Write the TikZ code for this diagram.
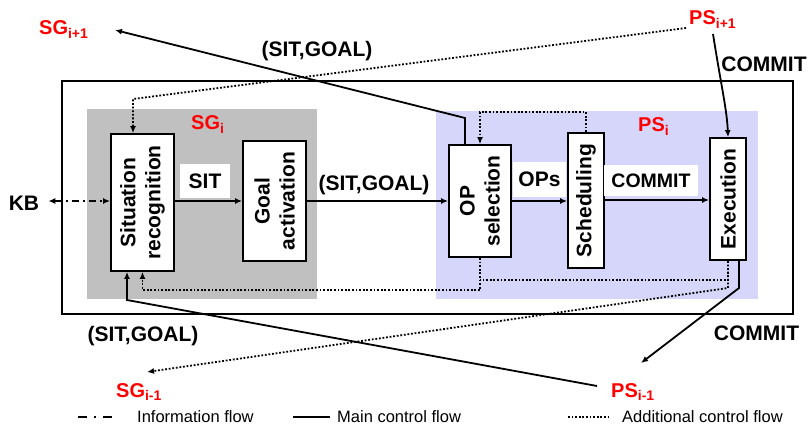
\documentclass[tikz,border=0pt]{standalone}
\usepackage{fontspec}
\setmainfont{Liberation Sans}
\usetikzlibrary{arrows.meta}
\definecolor{sgray}{RGB}{192,192,192}
\definecolor{pblue}{RGB}{214,214,250}
\definecolor{lred}{RGB}{255,0,0}
\begin{document}
\begin{tikzpicture}[x=1pt,y=-1pt,
 box/.style={draw,line width=1.8pt,fill=white,inner sep=0pt},
 btxt/.style={font=\fontsize{21}{25}\selectfont\bfseries, rotate=90, align=center, inner sep=0pt},
 lbl/.style={font=\fontsize{21}{25}\selectfont\bfseries, inner sep=0pt},
 wlbl/.style={lbl, fill=white},
 redlbl/.style={font=\fontsize{20}{24}\selectfont\bfseries, text=lred, inner sep=0pt, anchor=base west},
 main/.style={line width=1.8pt},
 addl/.style={line width=1.8pt, dash pattern=on 1.8pt off 1.8pt},
 info/.style={line width=1.8pt, dash pattern=on 7pt off 4pt on 2pt off 4pt},
 arr/.style={-{Latex[length=7pt,width=6pt]}},
 leg/.style={font=\fontsize{16.5}{20}\selectfont, inner sep=0pt, anchor=base west}
]
\useasboundingbox (0,0) rectangle (809,425);
% frames
\draw[main] (62,81) rectangle (793,314);
\fill[sgray] (87,109) rectangle (317,299);
\fill[pblue] (436,111) rectangle (758,299);
% boxes (placed first for names, redrawn on top later)
\path (142.5,202.5) node[minimum width=63, minimum height=137, inner sep=0pt, outer sep=0.9pt] (sr) {};
\path (274.5,201) node[minimum width=63, minimum height=120, inner sep=0pt, outer sep=0.9pt] (ga) {};
\path (480,201) node[minimum width=62, minimum height=112, inner sep=0pt, outer sep=0.9pt] (op) {};
\path (586,200.5) node[minimum width=36, minimum height=135, inner sep=0pt, outer sep=0.9pt] (sch) {};
\path (728,199) node[minimum width=36, minimum height=122, inner sep=0pt, outer sep=0.9pt] (ex) {};
% labels
\node[lbl] (kb) at (24,203) {KB};
\node[redlbl] (sgip) at (39,35) {SG\textsubscript{i+1}};
\node[redlbl] (sgi) at (191,130) {SG\textsubscript{i}};
\node[redlbl] (psi) at (638,132) {PS\textsubscript{i}};
\node[redlbl] (psip) at (689,25) {PS\textsubscript{i+1}};
\node[redlbl] (psim) at (611,397) {PS\textsubscript{i-1}};
\node[redlbl] (sgim) at (116,397) {SG\textsubscript{i-1}};
\node[lbl] (sgtop) at (317,51) {(SIT,GOAL)};
\node[lbl] (sgmid) at (374,185) {(SIT,GOAL)};
\node[lbl] (sgbot) at (143,336.5) {(SIT,GOAL)};
\node[lbl] (ctop) at (764,64.5) {COMMIT};
\node[lbl] (cbot) at (756.5,333.5) {COMMIT};
% coordinates
\coordinate (sgipA) at (115,30);
\coordinate (b1) at (465,118);
\coordinate (psipA) at (686,28);
\coordinate (d1) at (133,99);
\coordinate (psipB) at (713,34);
\coordinate (d2) at (480,280);
\coordinate (d3) at (480,290);
\coordinate (d4) at (728,288);
\coordinate (sgimA) at (147,372);
\coordinate (b2) at (739,288);
\coordinate (psimA) at (641,363);
\coordinate (psimB) at (597,386);
\coordinate (b3) at (127,300);
% connectors
\draw[info,{Latex[length=7pt,width=6pt]}-{Latex[length=7pt,width=6pt]}] ([shift={(9,-2)}]kb.east) -- (sr.west |- 0,201);
\draw[main,arr] (sr.east |- 0,201) -- (ga.west |- 0,201);
\draw[main,arr] (ga.east |- 0,201) -- (op.west |- 0,201);
\draw[main,arr] (op.east |- 0,201) -- (sch.west |- 0,201);
\draw[main,arr] (sch.east |- 0,200) -- (ex.west |- 0,200);
\draw[main,arr] (op.north -| b1) -- (b1) -- (sgipA);
\draw[addl,arr] (psipA) -- (d1) -- (d1 |- sr.north);
\draw[main,arr] (psipB) .. controls (721,85) and (727,110) .. (ex.north);
\draw[addl,arr] (sch.north) -- ++(0,-20) -| (op.north);
\draw[addl] (ex.south) |- (d2);
\draw[addl,arr] (op.south) -- (d3) -| (sr.south);
\draw[addl,arr] (ex.south) -- (d4) -- (sgimA);
\draw[main,arr] (ex.south -| b2) -- (b2) -- (psimA);
\draw[main,arr] (psimB) -- (b3) -- (b3 |- sr.south);
% visible boxes
\node[box, minimum width=63, minimum height=137] at (sr) {};
\node[btxt] at (sr.center) {Situation\\recognition};
\node[box, minimum width=63, minimum height=120] at (ga) {};
\node[btxt] at (ga.center) {Goal\\activation};
\node[box, minimum width=62, minimum height=112] at (op) {};
\node[btxt] at (op.center) {OP\\selection};
\node[box, minimum width=36, minimum height=135] at (sch) {};
\node[btxt] at (sch.center) {Scheduling};
\node[box, minimum width=36, minimum height=122] at (ex) {};
\node[btxt] at (ex.center) {Execution};
% white labels
\node[wlbl, minimum width=50, minimum height=34] (lsit) at (205,181) {SIT};
\node[wlbl, minimum width=53, minimum height=35] (lops) at (539.5,179.5) {OPs};
\node[wlbl, minimum width=94, minimum height=31, font=\fontsize{19.5}{23}\selectfont\bfseries] (lcom) at (651,180.5) {COMMIT};
% legend
\coordinate (l1a) at (78,417); \coordinate (l1b) at (117,417);
\coordinate (l2a) at (293,417); \coordinate (l2b) at (330,417);
\coordinate (l3a) at (568,417); \coordinate (l3b) at (608,417);
\draw[line width=1.8pt, dash pattern=on 9pt off 7pt on 2pt off 7pt] (l1a) -- (l1b);
\draw[main] (l2a) -- (l2b);
\draw[addl] (l3a) -- (l3b);
\node[leg] (t1) at (137,422) {Information flow};
\node[leg] (t2) at (337,422) {Main control flow};
\node[leg] (t3) at (622,422) {Additional control flow};
\end{tikzpicture}
\end{document}
